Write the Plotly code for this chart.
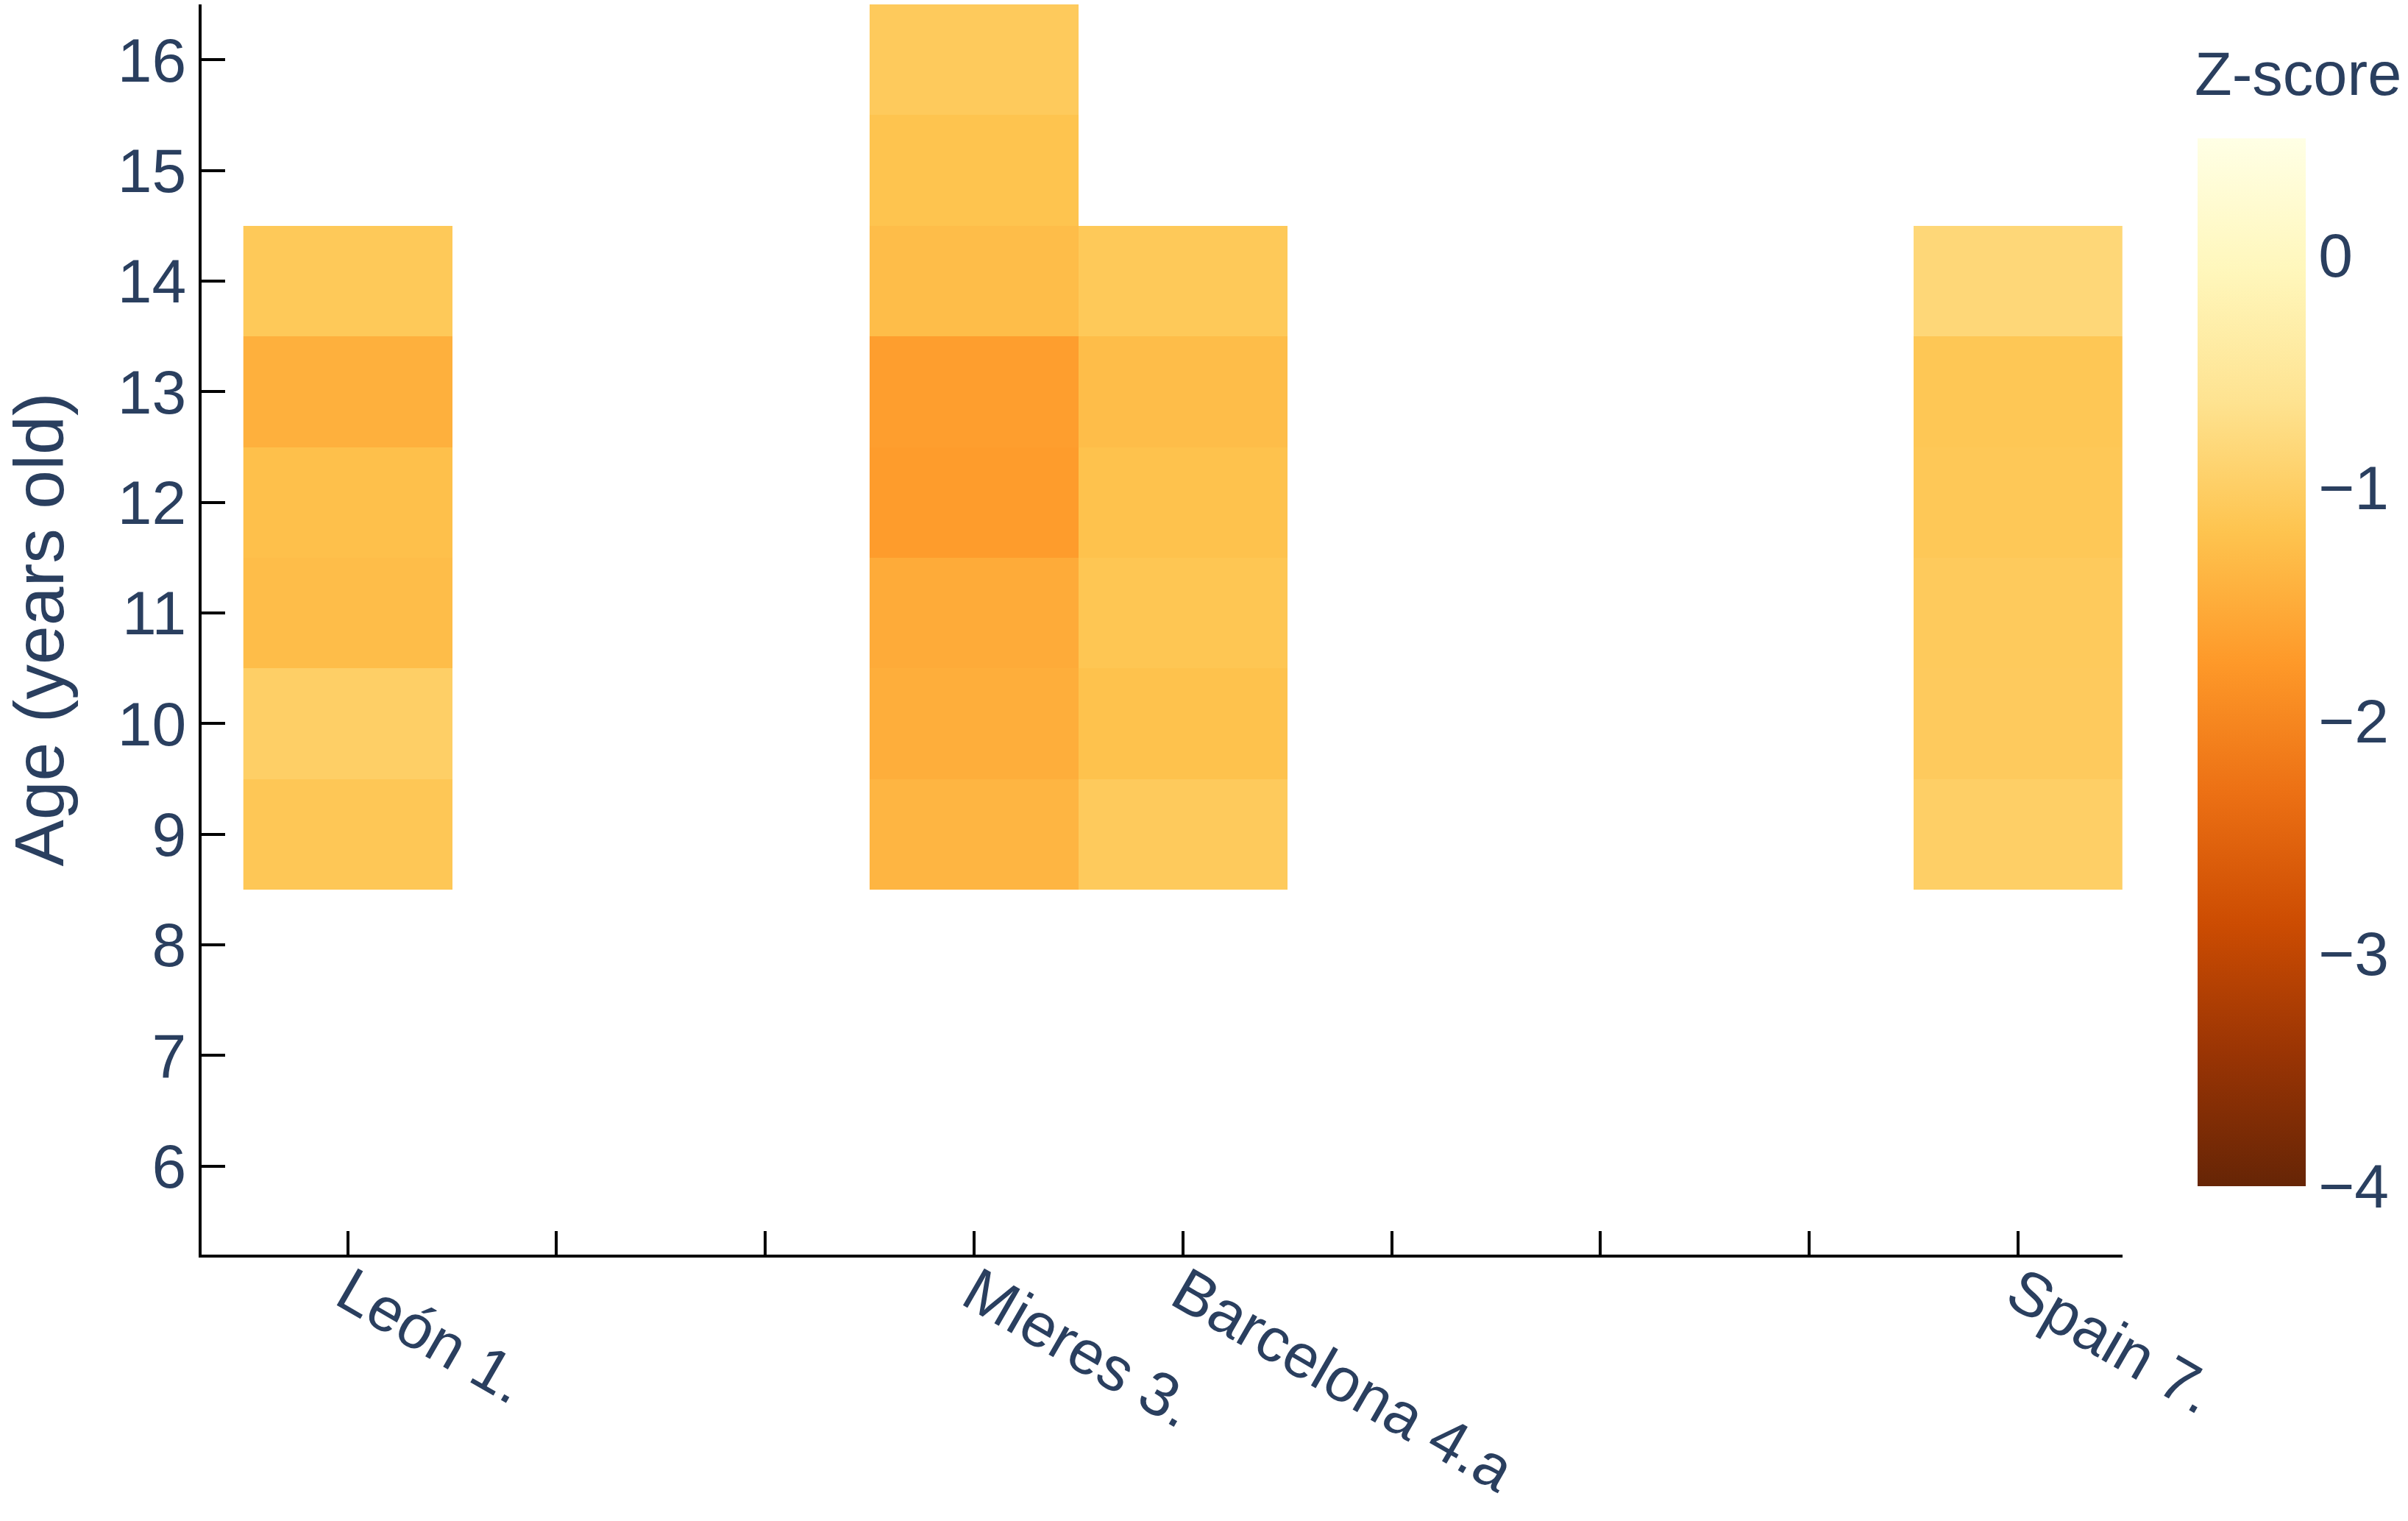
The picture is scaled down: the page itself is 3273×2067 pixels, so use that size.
import plotly.graph_objects as go

# Categories along the x axis (blank labels for unlabeled tick positions)
site_labels = ["León 1.", "", "", "Mieres 3.", "Barcelona 4.a", "", "", "", "Spain 7."]
site_index = list(range(len(site_labels)))

# Ages (years old)
ages = [9, 10, 11, 12, 13, 14, 15, 16]

# Z-scores per site, listed by age 9..16 (None = no data)
leon = [-1.13, -0.99, -1.28, -1.24, -1.45, -1.10, None, None]
mieres = [-1.38, -1.48, -1.51, -1.71, -1.68, -1.28, -1.19, -1.08]
barcelona = [-1.08, -1.21, -1.15, -1.21, -1.28, -1.10, None, None]
spain = [-0.99, -1.07, -1.08, -1.12, -1.14, -0.84, None, None]
empty = [None] * len(ages)

columns = [leon, empty, empty, mieres, barcelona, empty, empty, empty, spain]
z = [[col[i] for col in columns] for i in range(len(ages))]

font_color = "#2a3f5f"
font_family = "Arial, Liberation Sans, sans-serif"

fig = go.Figure(
    go.Heatmap(
        x=site_index,
        y=ages,
        z=z,
        colorscale="YlOrBr",
        reversescale=True,
        zmin=-4,
        zmax=0.5,
        hoverongaps=False,
        colorbar=dict(
            tickfont=dict(size=84, color=font_color),
            thickness=147,
            thicknessmode="pixels",
            len=0.838,
            lenmode="fraction",
            x=1.0391,
            xanchor="left",
            xpad=0,
            y=0.0547,
            yanchor="bottom",
            ypad=0,
            outlinewidth=0,
            ticks="",
            dtick=1,
        ),
    )
)

fig.add_annotation(
    text="Z-score",
    xref="paper", yref="paper",
    x=1.0372, y=1.0,
    xanchor="left", yanchor="middle",
    yshift=-94,
    showarrow=False,
    borderpad=0,
    font=dict(size=83, color=font_color),
)

fig.update_layout(
    width=3273,
    height=2067,
    margin=dict(l=274, r=388, t=6, b=362, autoexpand=False),
    paper_bgcolor="white",
    plot_bgcolor="white",
    font=dict(family=font_family, size=84, color=font_color),
    xaxis=dict(
        range=[-0.7, 8.5],
        tickmode="array",
        tickvals=site_index,
        ticktext=site_labels,
        tickangle=30,
        ticks="inside",
        ticklen=32,
        tickwidth=4,
        tickcolor="black",
        showline=True,
        linecolor="black",
        linewidth=4,
        showgrid=False,
        zeroline=False,
        automargin=False,
        ticklabelstandoff=-34,
        tickfont=dict(size=84),
    ),
    yaxis=dict(
        range=[5.2, 16.5],
        dtick=1,
        tick0=0,
        ticks="inside",
        ticklen=32,
        tickwidth=4,
        tickcolor="black",
        showline=True,
        linecolor="black",
        linewidth=4,
        showgrid=False,
        zeroline=False,
        automargin=False,
        tickfont=dict(size=84),
        title=dict(text="Age (years old)", font=dict(size=95), standoff=48),
    ),
)

fig.write_html("out.html")
